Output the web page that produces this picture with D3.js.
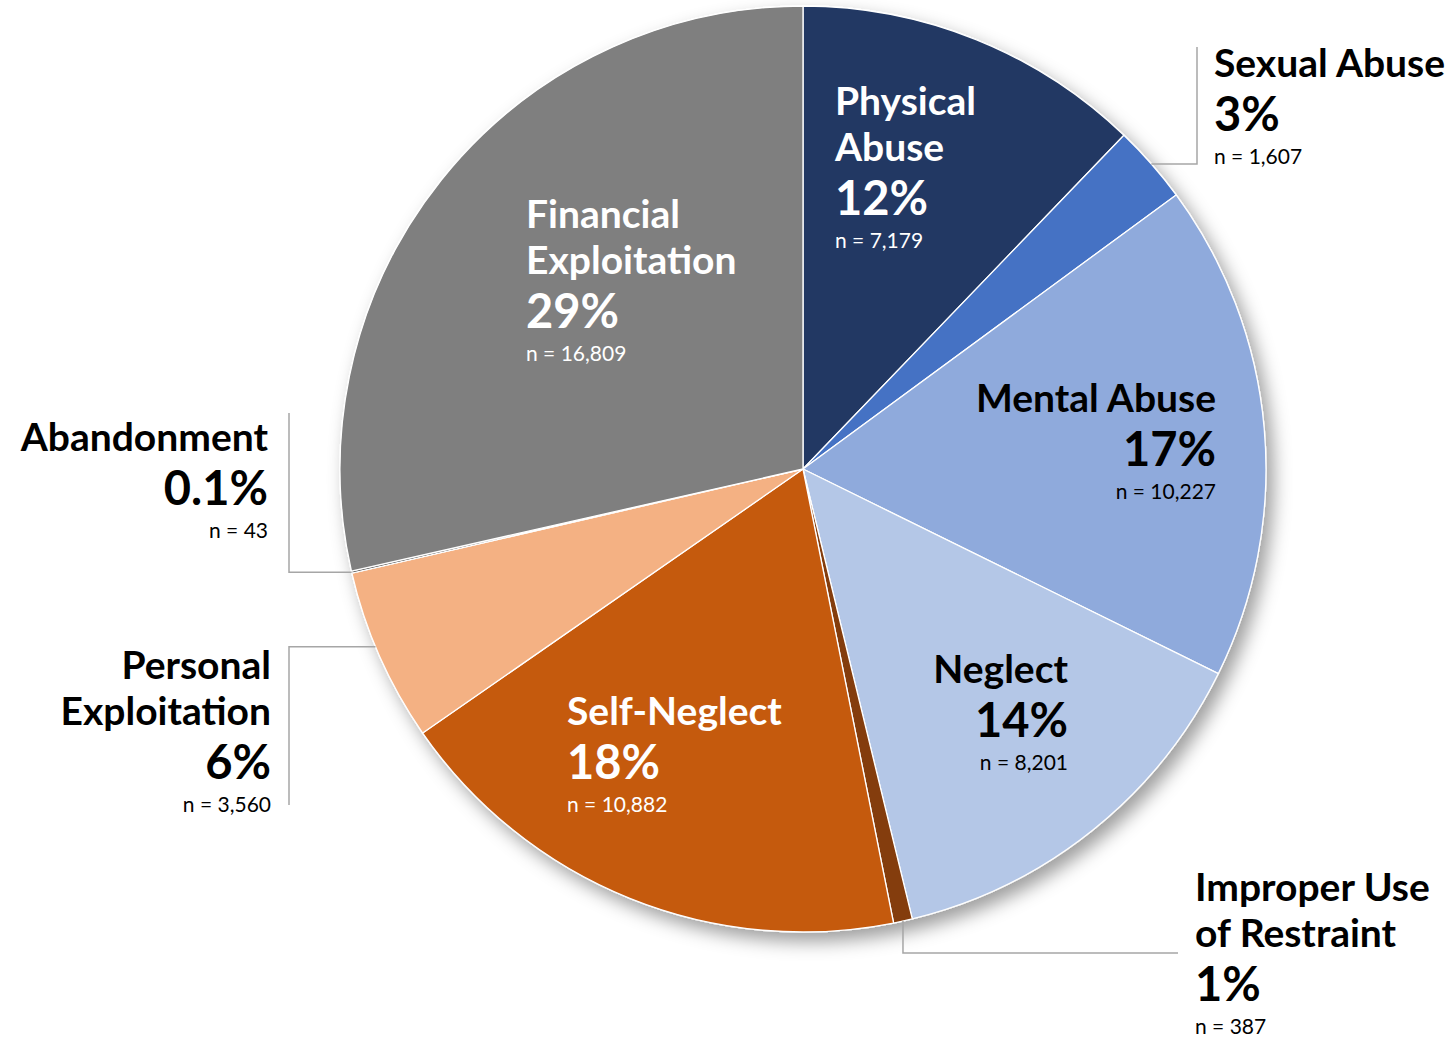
<!DOCTYPE html>
<html>
<head>
<meta charset="utf-8">
<script src="https://cdn.jsdelivr.net/npm/d3@7"></script>
<style>
  html, body { margin: 0; padding: 0; background: #ffffff; }
  svg { display: block; }
  text { font-family: Lato, "Open Sans", sans-serif; }
</style>
</head>
<body>
<svg id="chart" width="1449" height="1039"></svg>
<script>
// Reported cases by allegation type (clockwise from 12 o'clock)
const categories = [
  "Physical Abuse", "Sexual Abuse", "Mental Abuse", "Neglect",
  "Improper Use of Restraint", "Self-Neglect", "Personal Exploitation",
  "Abandonment", "Financial Exploitation"
];
const counts = [7179, 1607, 10227, 8201, 387, 10882, 3560, 43, 16809];
const percentLabels = ["12%", "3%", "17%", "14%", "1%", "18%", "6%", "0.1%", "29%"];
const countLabels = ["n = 7,179", "n = 1,607", "n = 10,227", "n = 8,201", "n = 387",
  "n = 10,882", "n = 3,560", "n = 43", "n = 16,809"];
const titleLines = [
  ["Physical", "Abuse"], ["Sexual Abuse"], ["Mental Abuse"], ["Neglect"],
  ["Improper Use", "of Restraint"], ["Self-Neglect"], ["Personal", "Exploitation"],
  ["Abandonment"], ["Financial", "Exploitation"]
];
const colors = ["#203864", "#4472c4", "#8faadc", "#b4c7e7", "#843c0c",
  "#c55a11", "#f4b183", "#3a3a3a", "#7f7f7f"];

// Label placement: anchor x, first-line baseline, alignment, colour, leader elbow
const labelLayout = [
  { x: 835, y: 115, anchor: "start", fill: "#ffffff" },
  { x: 1214, y: 77, anchor: "start", fill: "#000000", leader: { elbowX: 1197, endY: 47 } },
  { x: 1216, y: 412, anchor: "end", fill: "#000000" },
  { x: 1068, y: 683, anchor: "end", fill: "#000000" },
  { x: 1195, y: 901, anchor: "start", fill: "#000000", leader: { elbowY: 953, endX: 1178 } },
  { x: 567, y: 725, anchor: "start", fill: "#ffffff" },
  { x: 271, y: 679, anchor: "end", fill: "#000000", leader: { elbowX: 289, endY: 805, along: 0.56 } },
  { x: 268, y: 451, anchor: "end", fill: "#000000", leader: { elbowX: 289, endY: 413 } },
  { x: 526, y: 228, anchor: "start", fill: "#ffffff" }
];

const cx = 803, cy = 469, radius = 463;
const svg = d3.select("#chart");

const defs = svg.append("defs");
const shadow = defs.append("filter").attr("id", "pieShadow")
  .attr("x", "-10%").attr("y", "-10%").attr("width", "125%").attr("height", "125%");
shadow.append("feGaussianBlur").attr("in", "SourceAlpha").attr("stdDeviation", 9).attr("result", "blur");
shadow.append("feOffset").attr("in", "blur").attr("dx", 7).attr("dy", 9).attr("result", "off");
shadow.append("feFlood").attr("flood-color", "#000000").attr("flood-opacity", 0.38);
shadow.append("feComposite").attr("in2", "off").attr("operator", "in").attr("result", "shade");
const merge = shadow.append("feMerge");
merge.append("feMergeNode").attr("in", "shade");
merge.append("feMergeNode").attr("in", "SourceGraphic");

const data = categories.map((c, i) => ({ name: c, value: counts[i], i }));
const pie = d3.pie().sort(null).value(d => d.value);
const arcs = pie(data);
const arc = d3.arc().innerRadius(0).outerRadius(radius);

const g = svg.append("g").attr("transform", `translate(${cx},${cy})`);
g.append("g").attr("filter", "url(#pieShadow)")
  .selectAll("path").data(arcs).join("path")
  .attr("d", arc)
  .attr("fill", d => colors[d.data.i])
  .attr("stroke", "#ffffff")
  .attr("stroke-width", 1.3)
  .attr("stroke-linejoin", "round");

// Leader lines from the rim of small slices to their labels
arcs.forEach(a => {
  const L = labelLayout[a.data.i].leader;
  if (!L) return;
  const f = L.along !== undefined ? L.along : 0.5;
  const ang = a.startAngle + (a.endAngle - a.startAngle) * f;
  const px = cx + radius * Math.sin(ang);
  const py = cy - radius * Math.cos(ang);
  let pts;
  if (L.elbowX !== undefined) pts = [[px, py], [L.elbowX, py], [L.elbowX, L.endY]];
  else pts = [[px, py], [px, L.elbowY], [L.endX, L.elbowY]];
  svg.append("path")
    .attr("d", d3.line()(pts))
    .attr("fill", "none")
    .attr("stroke", "#a6a6a6")
    .attr("stroke-width", 1.5);
});

// Category labels
const titleSize = 39, pctSize = 47, nSize = 21;
arcs.forEach(a => {
  const i = a.data.i;
  const lay = labelLayout[i];
  const t = svg.append("text")
    .attr("text-anchor", lay.anchor)
    .attr("fill", lay.fill);
  let y = lay.y;
  titleLines[i].forEach((line, k) => {
    if (k > 0) y += 46;
    t.append("tspan").attr("x", lay.x).attr("y", y)
      .attr("font-size", titleSize).attr("font-weight", 700).text(line);
  });
  y += 54;
  t.append("tspan").attr("x", lay.x).attr("y", y)
    .attr("font-size", pctSize).attr("font-weight", 700).text(percentLabels[i]);
  y += 33;
  t.append("tspan").attr("x", lay.x).attr("y", y)
    .attr("font-size", nSize).attr("font-weight", 400).text(countLabels[i]);
});
</script>
</body>
</html>
